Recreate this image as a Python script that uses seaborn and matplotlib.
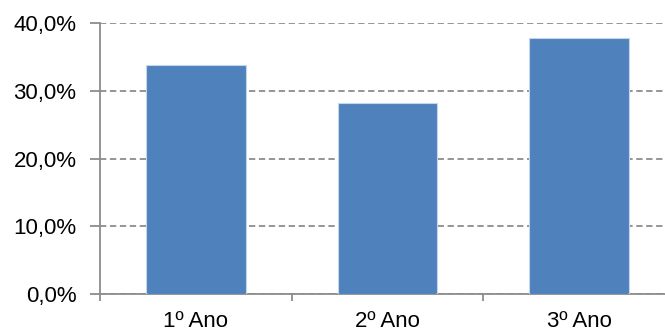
import matplotlib
matplotlib.use("Agg")
import matplotlib.pyplot as plt
from matplotlib.ticker import FixedLocator, FuncFormatter
import seaborn as sns
import pandas as pd

categories = ["1º Ano", "2º Ano", "3º Ano"]
values = [33.8, 28.2, 37.8]
y_ticks = [0, 10, 20, 30, 40]

sns.set_style("white")
plt.rcParams["font.family"] = ["Liberation Sans", "DejaVu Sans"]

df = pd.DataFrame({"ano": categories, "pct": values})

fig = plt.figure(figsize=(6.65, 3.36), dpi=100)
ax = fig.add_axes([100 / 665, 42 / 336, 575 / 665, 271 / 336])

sns.barplot(data=df, x="ano", y="pct", color="#4F81BD", saturation=1,
            width=0.52, edgecolor="#C6D6EA", linewidth=0.8, ax=ax, zorder=3)

ax.set_ylim(0, 40)
ax.set_xlim(-0.5, 2.5)
ax.set_yticks(y_ticks)
ax.yaxis.set_major_formatter(FuncFormatter(lambda v, p: f"{v:.1f}".replace(".", ",") + "%"))
ax.yaxis.grid(True, color="#8C8C8C", linestyle=(0, (3.5, 2)), linewidth=1.3, zorder=0)
ax.set_axisbelow(True)

ax.set_xlabel("")
ax.set_ylabel("")

for side in ["top", "right"]:
    ax.spines[side].set_visible(False)
for side in ["left", "bottom"]:
    ax.spines[side].set_color("#8C8C8C")
    ax.spines[side].set_linewidth(1.3)

ax.tick_params(axis="y", direction="out", length=7, width=1.3, color="#8C8C8C",
               labelsize=16, labelcolor="black", pad=10, left=True)
ax.tick_params(axis="x", which="major", length=0, labelsize=16, labelcolor="black", pad=12)
ax.xaxis.set_minor_locator(FixedLocator([-0.5, 0.5, 1.5, 2.5]))
ax.tick_params(axis="x", which="minor", direction="out", length=5, width=1.3,
               color="#8C8C8C", bottom=True)

fig.savefig("out.png", dpi=100)
